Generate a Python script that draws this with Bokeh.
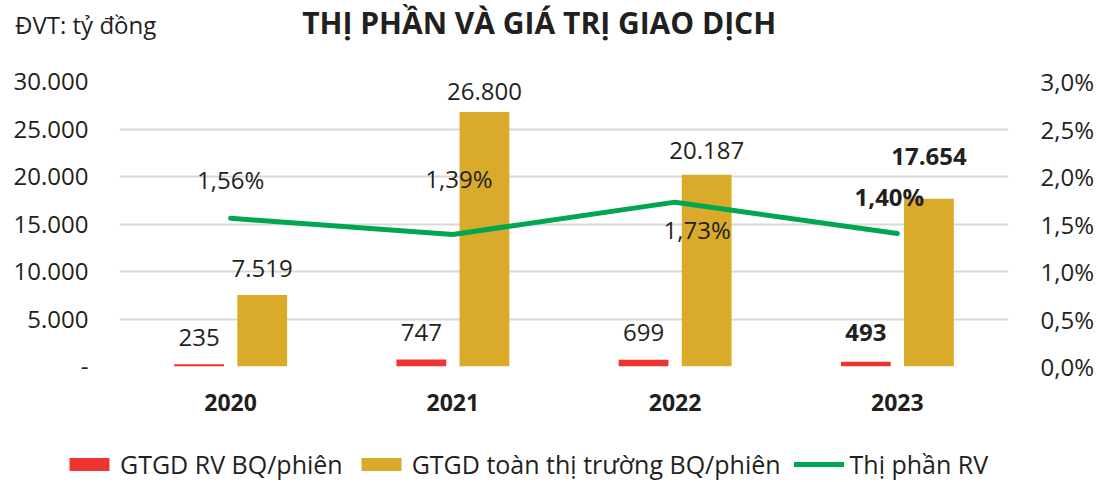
from bokeh.plotting import figure
from bokeh.layouts import column
from bokeh.models import (ColumnDataSource, Range1d, LinearAxis, FixedTicker,
                          CustomJSTickFormatter, Label, Legend, LegendItem)
from bokeh.transform import dodge
from bokeh.core.properties import value
from bokeh.embed import file_html
from bokeh.resources import INLINE

# ---------------- data ----------------
years = ["2020", "2021", "2022", "2023"]
rv_value = [235, 747, 699, 493]                 # GTGD RV BQ/phiên (tỷ đồng)
market_value = [7519, 26800, 20187, 17654]      # GTGD toàn thị trường BQ/phiên
market_share = [1.56, 1.39, 1.73, 1.40]         # Thị phần RV (%)
highlight = [False, False, False, True]
left_ticks = [0, 5000, 10000, 15000, 20000, 25000, 30000]
right_ticks = [0.0, 0.5, 1.0, 1.5, 2.0, 2.5, 3.0]
title_text = "THỊ PHẦN VÀ GIÁ TRỊ GIAO DỊCH"
unit_text = "ĐVT: tỷ đồng"
legend_labels = ["GTGD RV BQ/phiên", "GTGD toàn thị trường BQ/phiên", "Thị phần RV"]

# label placement (styling, pixels)
rv_dy = [-27, -27, -27, -29]
mkt_dy = [-27, -20, -24, -42]
share_dx = [0, 6, 22, -8]
share_dy = [-39, -56, 27, -37]

# ---------------- style ----------------
FONT = "Open Sans"
TXT = "#231F20"
RED = "#EE3431"
GOLD = "#DAAA2A"
GREEN = "#00A651"
GRID = "#D9D9D9"
FS = "24px"
W = 1096
H_MAIN, H_LEG = 436, 46
LEFT, RIGHT, TOP, BOTTOM = 119, 83, 81, 70
YMAX = 30000
NCAT = len(years)
PX_X = (W - LEFT - RIGHT) / NCAT          # pixels per category
PX_Y = (H_MAIN - TOP - BOTTOM) / YMAX     # pixels per unit
LABEL_FIX = 11                            # observed baseline shift of Labels


def fmt_num(v):
    return f"{v:,}".replace(",", ".")


def fmt_pct(v):
    return f"{v:.2f}".replace(".", ",") + "%"


def sx(px):   # canvas pixel -> data x (for texts outside the frame)
    return (px - LEFT) / PX_X


def sy(py):   # canvas pixel -> data y
    return (H_MAIN - BOTTOM - (py - LABEL_FIX)) / PX_Y


centers = [i + 0.5 for i in range(NCAT)]
src = ColumnDataSource(dict(
    x=centers,
    rv=rv_value,
    mkt=market_value,
    share=market_share,
    rv_label=[fmt_num(v) for v in rv_value],
    mkt_label=[fmt_num(v) for v in market_value],
    share_label=[fmt_pct(v) for v in market_share],
    style=["bold" if h else "normal" for h in highlight],
    rv_dy=rv_dy, mkt_dy=mkt_dy, share_dx=share_dx, share_dy=share_dy,
))

# ---------------- main chart ----------------
p = figure(width=W, height=H_MAIN, x_range=Range1d(0, NCAT), y_range=Range1d(0, YMAX),
           output_backend="svg", toolbar_location=None, title=None,
           min_border_left=LEFT, min_border_right=RIGHT, min_border_top=TOP,
           min_border_bottom=BOTTOM)
p.frame_align = False
p.outline_line_color = None
p.extra_y_ranges = {"pct": Range1d(0, 3)}

xa = p.xaxis[0]
xa.ticker = FixedTicker(ticks=centers)
xa.formatter = CustomJSTickFormatter(args=dict(labels=years),
                                     code="return labels[Math.floor(tick)];")
ya = p.yaxis[0]
ya.ticker = FixedTicker(ticks=left_ticks)
ya.formatter = CustomJSTickFormatter(code=r"""
if (tick == 0) return '-';
return Math.round(tick).toString().replace(/\B(?=(\d{3})+(?!\d))/g, '.');
""")
ra = LinearAxis(y_range_name="pct", ticker=FixedTicker(ticks=right_ticks),
                formatter=CustomJSTickFormatter(
                    code="return tick.toFixed(1).replace('.', ',') + '%';"))
p.add_layout(ra, "right")

for ax in (xa, ya, ra):
    ax.axis_line_color = None
    ax.major_tick_line_color = None
    ax.minor_tick_line_color = None
    ax.major_label_text_font = FONT
    ax.major_label_text_font_size = FS
    ax.major_label_text_color = TXT
xa.major_label_text_font_style = "bold"
xa.major_label_text_font_size = "23px"
xa.major_label_standoff = 21
ya.major_label_standoff = 25
ra.major_label_standoff = 26

p.xgrid.grid_line_color = None
p.ygrid.grid_line_color = GRID
p.ygrid.grid_line_width = 2

bar_style = dict(width=0.224, source=src, line_color=None)
p.vbar(x=dodge("x", -0.142, range=p.x_range), top="rv", fill_color=RED, **bar_style)
p.vbar(x=dodge("x", 0.142, range=p.x_range), top="mkt", fill_color=GOLD, **bar_style)
line_style = dict(line_color=GREEN, line_width=5, line_cap="round", line_join="round")
p.line("x", "share", source=src, y_range_name="pct", **line_style)

common = dict(source=src, text_align="center", text_baseline="alphabetic",
              text_font=value(FONT), text_font_size=FS, text_color=TXT,
              text_font_style="style")
p.text(x=dodge("x", -0.142, range=p.x_range), y="rv", text="rv_label",
       y_offset="rv_dy", **common)
p.text(x=dodge("x", 0.142, range=p.x_range), y="mkt", text="mkt_label",
       y_offset="mkt_dy", **common)
p.text(x="x", y="share", text="share_label", x_offset="share_dx",
       y_offset="share_dy", y_range_name="pct", **common)

# title and unit: zero-size annotations in the top side panel
p.add_layout(Label(x=sx(541), y=sy(33), text=title_text, text_align="center",
                   text_baseline="alphabetic", text_font=FONT,
                   text_font_size="30px", text_font_style="bold",
                   text_color=TXT), "above")
p.add_layout(Label(x=sx(14), y=sy(35), text=unit_text, text_align="left",
                   text_baseline="alphabetic", text_font=FONT,
                   text_font_size=FS, text_color=TXT), "above")

# ---------------- legend strip (same series, view range kept empty) ----------------
lg = figure(width=W, height=H_LEG, x_range=Range1d(-10, -9), y_range=Range1d(0, 1),
            output_backend="svg", toolbar_location=None, title=None, min_border=0,
            x_axis_type=None, y_axis_type=None)
lg.frame_align = False
lg.outline_line_color = None
lg.xgrid.grid_line_color = None
lg.ygrid.grid_line_color = None
lg.extra_y_ranges = {"pct": Range1d(0, 3)}
l_rv = lg.vbar(x="x", top="rv", fill_color=RED, **bar_style)
l_mkt = lg.vbar(x="x", top="mkt", fill_color=GOLD, **bar_style)
l_line = lg.line("x", "share", source=src, y_range_name="pct", **line_style)

legend = Legend(items=[LegendItem(label=legend_labels[0], renderers=[l_rv]),
                       LegendItem(label=legend_labels[1], renderers=[l_mkt]),
                       LegendItem(label=legend_labels[2], renderers=[l_line])],
                location=(64, 1), orientation="horizontal",
                border_line_color=None, background_fill_alpha=0,
                padding=0, margin=0, glyph_width=50, glyph_height=16,
                label_standoff=6, spacing=13, label_text_font=FONT,
                label_text_font_size="25px", label_text_color=TXT)
lg.add_layout(legend)

layout = column(p, lg, spacing=0)
open("out.html", "w").write(file_html(layout, INLINE))
